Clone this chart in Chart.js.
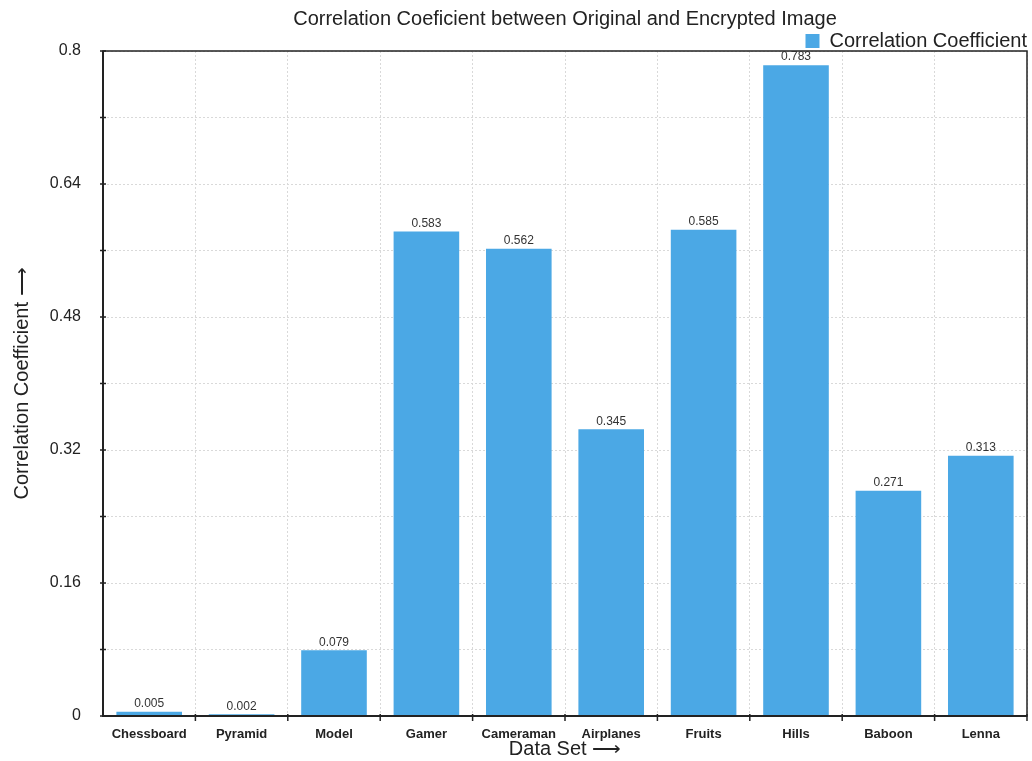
<!DOCTYPE html>
<html>
<head>
<meta charset="utf-8">
<script src="https://cdn.jsdelivr.net/npm/chart.js@4.4.1/dist/chart.umd.min.js"></script>
<style>
  html, body { margin: 0; padding: 0; background: #fff; }
  #wrap { width: 1032px; height: 761px; position: relative; }
</style>
</head>
<body>
<div id="wrap"><canvas id="c"></canvas></div>
<script>
const categories = ['Chessboard', 'Pyramid', 'Model', 'Gamer', 'Cameraman', 'Airplanes', 'Fruits', 'Hills', 'Baboon', 'Lenna'];
const correlation = [0.005, 0.002, 0.079, 0.583, 0.562, 0.345, 0.585, 0.783, 0.271, 0.313];
const yTickLabels = ['0', '0.16', '0.32', '0.48', '0.64', '0.8'];

const FONT = '"Liberation Sans", Arial, Helvetica, sans-serif';
const BAR = '#4ba8e5';

// Axis frame, tick marks and value labels drawn over the chart area
const framePlugin = {
  id: 'frame',
  afterDatasetsDraw(chart) {
    const { ctx, chartArea: a, scales } = chart;
    const x = scales.x, y = scales.y;
    ctx.save();
    ctx.strokeStyle = '#222';
    ctx.lineWidth = 1.5;
    ctx.strokeRect(a.left, a.top, a.right - a.left, a.bottom - a.top);
    ctx.lineWidth = 2;
    ctx.beginPath();
    ctx.moveTo(a.left, a.top); ctx.lineTo(a.left, a.bottom); ctx.lineTo(a.right, a.bottom);
    ctx.stroke();
    // y ticks every 0.08
    ctx.lineWidth = 1.5;
    y.ticks.forEach(t => {
      const py = y.getPixelForValue(t.value);
      ctx.beginPath(); ctx.moveTo(a.left - 3, py); ctx.lineTo(a.left + 3, py); ctx.stroke();
    });
    // x ticks at category boundaries
    for (let i = 1; i <= categories.length; i++) {
      const px = x.getPixelForValue(i - 0.5);
      ctx.beginPath(); ctx.moveTo(px, a.bottom - 2); ctx.lineTo(px, a.bottom + 5); ctx.stroke();
    }
    // value labels
    ctx.fillStyle = '#333';
    ctx.font = '12px ' + FONT;
    ctx.textAlign = 'center';
    ctx.textBaseline = 'bottom';
    const meta = chart.getDatasetMeta(0);
    meta.data.forEach((bar, i) => {
      ctx.fillText(correlation[i].toFixed(3), bar.x, bar.y - 2);
    });
    ctx.restore();
  }
};

new Chart(document.getElementById('c'), {
  type: 'bar',
  data: {
    labels: categories,
    datasets: [{
      label: 'Correlation Coefficient',
      data: correlation,
      backgroundColor: BAR,
      borderWidth: 0,
      barPercentage: 0.71,
      categoryPercentage: 1.0
    }]
  },
  options: {
    responsive: true,
    maintainAspectRatio: false,
    animation: false,
    layout: { padding: { left: 0, right: 5, top: 0, bottom: 0 } },
    plugins: {
      title: {
        display: true,
        fullSize: false,
        text: 'Correlation Coeficient between Original and Encrypted Image',
        color: '#222',
        font: { family: FONT, size: 20, weight: 'normal' },
        padding: { top: 7, bottom: 0 }
      },
      legend: {
        display: true,
        fullSize: false,
        position: 'top',
        align: 'end',
        maxHeight: 20,
        labels: {
          color: '#222',
          font: { family: FONT, size: 20 },
          boxWidth: 14,
          boxHeight: 14,
          padding: 0
        }
      },
      tooltip: { enabled: false }
    },
    scales: {
      x: {
        offset: true,
        grid: {
          offset: true,
          color: '#d9d9d9',
          drawTicks: false
        },
        border: { display: false, dash: [2, 2] },
        ticks: {
          color: '#222',
          font: { family: FONT, size: 13, weight: 'bold' },
          padding: 11,
          maxRotation: 0
        },
        title: {
          display: true,
          text: 'Data Set \u27F6',
          color: '#222',
          font: { family: FONT, size: 20 },
          padding: { top: 0, bottom: 0 }
        },
        afterFit(s) { s.height = 45; }
      },
      y: {
        min: 0,
        max: 0.8,
        grid: { color: '#d9d9d9', drawTicks: false },
        border: { display: false, dash: [2, 2] },
        ticks: {
          stepSize: 0.08,
          color: '#222',
          font: { family: FONT, size: 16 },
          padding: 22,
          callback(v) {
            const k = Math.round(v / 0.08);
            return k % 2 === 0 ? yTickLabels[k / 2] : '';
          }
        },
        title: {
          display: true,
          text: 'Correlation Coefficient \u27F6',
          color: '#222',
          font: { family: FONT, size: 20 },
          padding: { top: 10, bottom: 0 }
        },
        afterFit(s) { s.width = 103; }
      }
    }
  },
  plugins: [framePlugin]
});
</script>
</body>
</html>
